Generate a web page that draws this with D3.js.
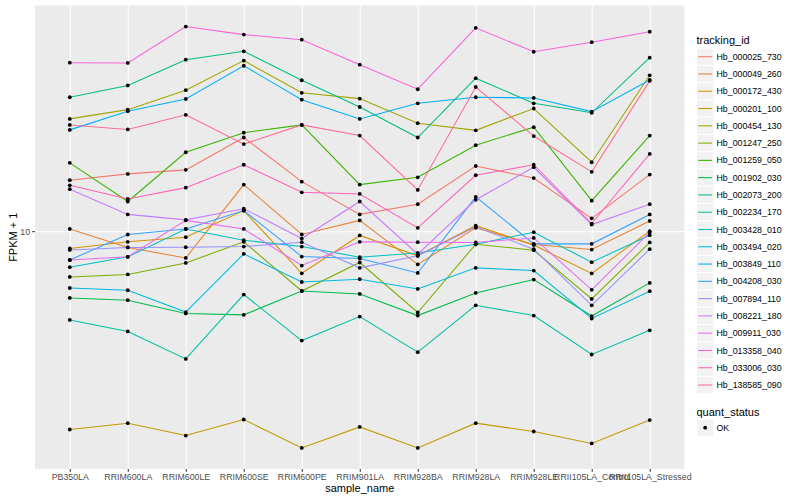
<!DOCTYPE html>
<html><head><meta charset="utf-8">
<script src="https://cdn.jsdelivr.net/npm/d3@7"></script>
<style>
body{margin:0;background:#fff}
text{font-family:"Liberation Sans",Arial,Helvetica,sans-serif}
</style>
</head><body>
<svg id="c" width="800" height="500"></svg>
<script>
// ---------- data ----------
const samples = ["PB350LA","RRIM600LA","RRIM600LE","RRIM600SE","RRIM600PE","RRIM901LA","RRIM928BA","RRIM928LA","RRIM928LE","RRII105LA_Control","RRII105LA_Stressed"];
const trackingIds = ["Hb_000025_730","Hb_000049_260","Hb_000172_430","Hb_000201_100","Hb_000454_130","Hb_001247_250","Hb_001259_050","Hb_001902_030","Hb_002073_200","Hb_002234_170","Hb_003428_010","Hb_003494_020","Hb_003849_110","Hb_004208_030","Hb_007894_110","Hb_008221_180","Hb_009911_030","Hb_013358_040","Hb_033006_030","Hb_138585_090"];
const yTicks = [10];
const quantStatus = ["OK"];

const Hb_000025_730 = [15.7, 16.6, 17.2, 22.9, 15.5, 11.6, 12.7, 17.8, 16.0, 11.2, 16.5];
const Hb_000049_260 = [10.2, 8.66, 7.89, 15.1, 9.71, 11.0, 7.45, 10.3, 8.89, 8.50, 10.95];
const Hb_000172_430 = [8.58, 9.10, 9.48, 12.0, 6.89, 9.63, 8.04, 10.5, 8.84, 6.88, 10.0];
const Hb_000201_100 = [1.73, 1.83, 1.64, 1.89, 1.47, 1.77, 1.47, 1.83, 1.70, 1.53, 1.88];
const Hb_000454_130 = [27.0, 29.3, 34.8, 45.2, 34.0, 32.3, 26.0, 24.4, 29.6, 18.4, 39.7];
const Hb_001247_250 = [6.67, 6.82, 7.55, 9.10, 5.89, 7.58, 4.87, 8.91, 8.45, 5.49, 9.05];
const Hb_001259_050 = [18.3, 13.0, 20.1, 23.9, 25.6, 15.1, 16.1, 21.4, 25.1, 13.1, 23.3];
const Hb_001902_030 = [5.54, 5.43, 4.83, 4.77, 5.89, 5.74, 4.74, 5.79, 6.52, 4.72, 6.33];
const Hb_002073_200 = [32.7, 36.3, 45.6, 49.1, 38.0, 30.0, 22.9, 38.7, 31.0, 28.5, 46.4];
const Hb_002234_170 = [4.56, 4.12, 3.23, 5.71, 3.80, 4.70, 3.43, 5.19, 4.74, 3.36, 4.16];
const Hb_003428_010 = [7.27, 7.97, 10.2, 9.23, 8.73, 7.94, 8.25, 8.91, 9.91, 7.60, 9.65];
const Hb_003494_020 = [6.05, 5.93, 4.89, 8.18, 6.38, 6.54, 6.00, 7.23, 7.06, 4.62, 5.88];
const Hb_003849_110 = [24.5, 28.9, 32.2, 43.2, 32.0, 27.0, 31.0, 32.7, 32.5, 28.8, 38.1];
const Hb_004208_030 = [7.75, 9.71, 10.2, 12.0, 7.99, 7.85, 6.91, 13.55, 8.94, 8.94, 11.6];
const Hb_007894_110 = [8.47, 8.66, 8.68, 8.73, 9.07, 7.23, 8.04, 10.4, 8.53, 5.19, 8.53];
const Hb_008221_180 = [14.5, 11.6, 11.05, 12.2, 9.37, 13.0, 8.16, 13.2, 17.6, 10.6, 12.7];
const Hb_009911_030 = [7.75, 7.97, 11.0, 10.2, 7.38, 9.10, 9.07, 9.05, 9.42, 5.95, 9.89];
const Hb_013358_040 = [44.4, 44.3, 61.1, 56.9, 54.4, 43.6, 35.1, 60.4, 48.9, 53.2, 58.4];
const Hb_033006_030 = [15.0, 13.3, 14.7, 18.0, 14.1, 13.9, 10.3, 16.4, 18.0, 10.7, 19.8];
const Hb_138585_090 = [25.6, 24.6, 28.0, 21.6, 25.6, 23.3, 14.4, 35.8, 23.2, 16.9, 37.8];

const seriesValues = [Hb_000025_730, Hb_000049_260, Hb_000172_430, Hb_000201_100, Hb_000454_130,
  Hb_001247_250, Hb_001259_050, Hb_001902_030, Hb_002073_200, Hb_002234_170, Hb_003428_010,
  Hb_003494_020, Hb_003849_110, Hb_004208_030, Hb_007894_110, Hb_008221_180, Hb_009911_030,
  Hb_013358_040, Hb_033006_030, Hb_138585_090];

// ---------- style ----------
const palette = ["#F8766D","#EA8331","#D89000","#C09B00","#A3A500","#7CAE00","#39B600","#00BB4E","#00BF7D","#00C1A3","#00BFC4","#00BAE0","#00B0F6","#35A2FF","#9590FF","#C77CFF","#E76BF3","#FA62DB","#FF62BC","#FF6C91"];
const panel = {left: 35, right: 684.5, top: 5.5, bottom: 469};

const svg = d3.select("#c");
svg.append("rect").attr("width", 800).attr("height", 500).attr("fill", "#fff");
svg.append("rect")
  .attr("x", panel.left).attr("y", panel.top)
  .attr("width", panel.right - panel.left).attr("height", panel.bottom - panel.top)
  .attr("fill", "#EBEBEB");

const x = d3.scalePoint().domain(samples).range([panel.left, panel.right]).padding(0.6);
const all = seriesValues.flat();
const lmin = Math.log10(d3.min(all)), lmax = Math.log10(d3.max(all));
const pad = 0.05 * (lmax - lmin);
const y = d3.scaleLog().domain([Math.pow(10, lmin - pad), Math.pow(10, lmax + pad)])
  .range([panel.bottom, panel.top]);

// grid
const gx = svg.append("g").attr("transform", `translate(0,${panel.bottom})`)
  .call(d3.axisBottom(x).tickSize(-(panel.bottom - panel.top)).tickFormat(""));
gx.select(".domain").remove();
gx.selectAll("line").attr("stroke", "#fff").attr("stroke-width", 1.07);
const gy = svg.append("g").attr("transform", `translate(${panel.left},0)`)
  .call(d3.axisLeft(y).tickValues(yTicks).tickSize(-(panel.right - panel.left)).tickFormat(""));
gy.select(".domain").remove();
gy.selectAll("line").attr("stroke", "#fff").attr("stroke-width", 1.07);

// lines
const line = d3.line().x((d, i) => x(samples[i])).y(d => y(d));
svg.append("g").selectAll("path").data(seriesValues).join("path")
  .attr("d", line).attr("fill", "none")
  .attr("stroke", (d, i) => palette[i]).attr("stroke-width", 1.07);

// points
const pts = [];
seriesValues.forEach((s, si) => s.forEach((v, i) => pts.push({s: samples[i], v})));
svg.append("g").selectAll("circle").data(pts).join("circle")
  .attr("cx", d => x(d.s)).attr("cy", d => y(d.v)).attr("r", 1.9).attr("fill", "#000");

// axes
const ax = svg.append("g").attr("transform", `translate(0,${panel.bottom})`)
  .call(d3.axisBottom(x).tickSize(2.75).tickPadding(2.2));
ax.select(".domain").remove();
ax.selectAll("line").attr("stroke", "#333333").attr("stroke-width", 1.07);
ax.selectAll("text").attr("fill", "#4D4D4D").style("font-size", "8.8px")
  .style("font-family", '"Liberation Sans",Arial,sans-serif');

const ay = svg.append("g").attr("transform", `translate(${panel.left},0)`)
  .call(d3.axisLeft(y).tickValues(yTicks).tickFormat(d3.format("d")).tickSize(2.75).tickPadding(2.2));
ay.select(".domain").remove();
ay.selectAll("line").attr("stroke", "#333333").attr("stroke-width", 1.07);
ay.selectAll("text").attr("fill", "#4D4D4D").style("font-size", "8.8px")
  .style("font-family", '"Liberation Sans",Arial,sans-serif');

// axis titles
svg.append("text").attr("x", (panel.left + panel.right) / 2).attr("y", 491.5)
  .attr("text-anchor", "middle").style("font-size", "11px").attr("fill", "#000").text("sample_name");
svg.append("text").attr("transform", `translate(17,${(panel.top + panel.bottom) / 2}) rotate(-90)`)
  .attr("text-anchor", "middle").style("font-size", "11px").attr("fill", "#000").text("FPKM + 1");

// legend
const lg = svg.append("g");
const keyX = 696.5, keyS = 17.28, firstC = 56.7;
lg.append("text").attr("x", keyX).attr("y", 44.3).style("font-size", "11px").text("tracking_id");
trackingIds.forEach((id, i) => {
  const cy = firstC + keyS * i;
  lg.append("rect").attr("x", keyX).attr("y", cy - keyS / 2).attr("width", keyS).attr("height", keyS)
    .attr("fill", "#F2F2F2").attr("stroke", "#fff").attr("stroke-width", 1);
  lg.append("line").attr("x1", keyX + 1.7).attr("x2", keyX + keyS - 1.7).attr("y1", cy).attr("y2", cy)
    .attr("stroke", palette[i]).attr("stroke-width", 1.07);
  lg.append("text").attr("x", 716.5).attr("y", cy).attr("dy", "0.35em")
    .style("font-size", "8.8px").text(id);
});
lg.append("text").attr("x", keyX).attr("y", 416).style("font-size", "11px").text("quant_status");
quantStatus.forEach((q, i) => {
  const cy = 427.7 + keyS * i;
  lg.append("rect").attr("x", keyX).attr("y", cy - keyS / 2).attr("width", keyS).attr("height", keyS)
    .attr("fill", "#F2F2F2").attr("stroke", "#fff").attr("stroke-width", 1);
  lg.append("circle").attr("cx", keyX + keyS / 2).attr("cy", cy).attr("r", 1.9).attr("fill", "#000");
  lg.append("text").attr("x", 716.5).attr("y", cy).attr("dy", "0.35em")
    .style("font-size", "8.8px").text(q);
});
</script>
</body></html>
